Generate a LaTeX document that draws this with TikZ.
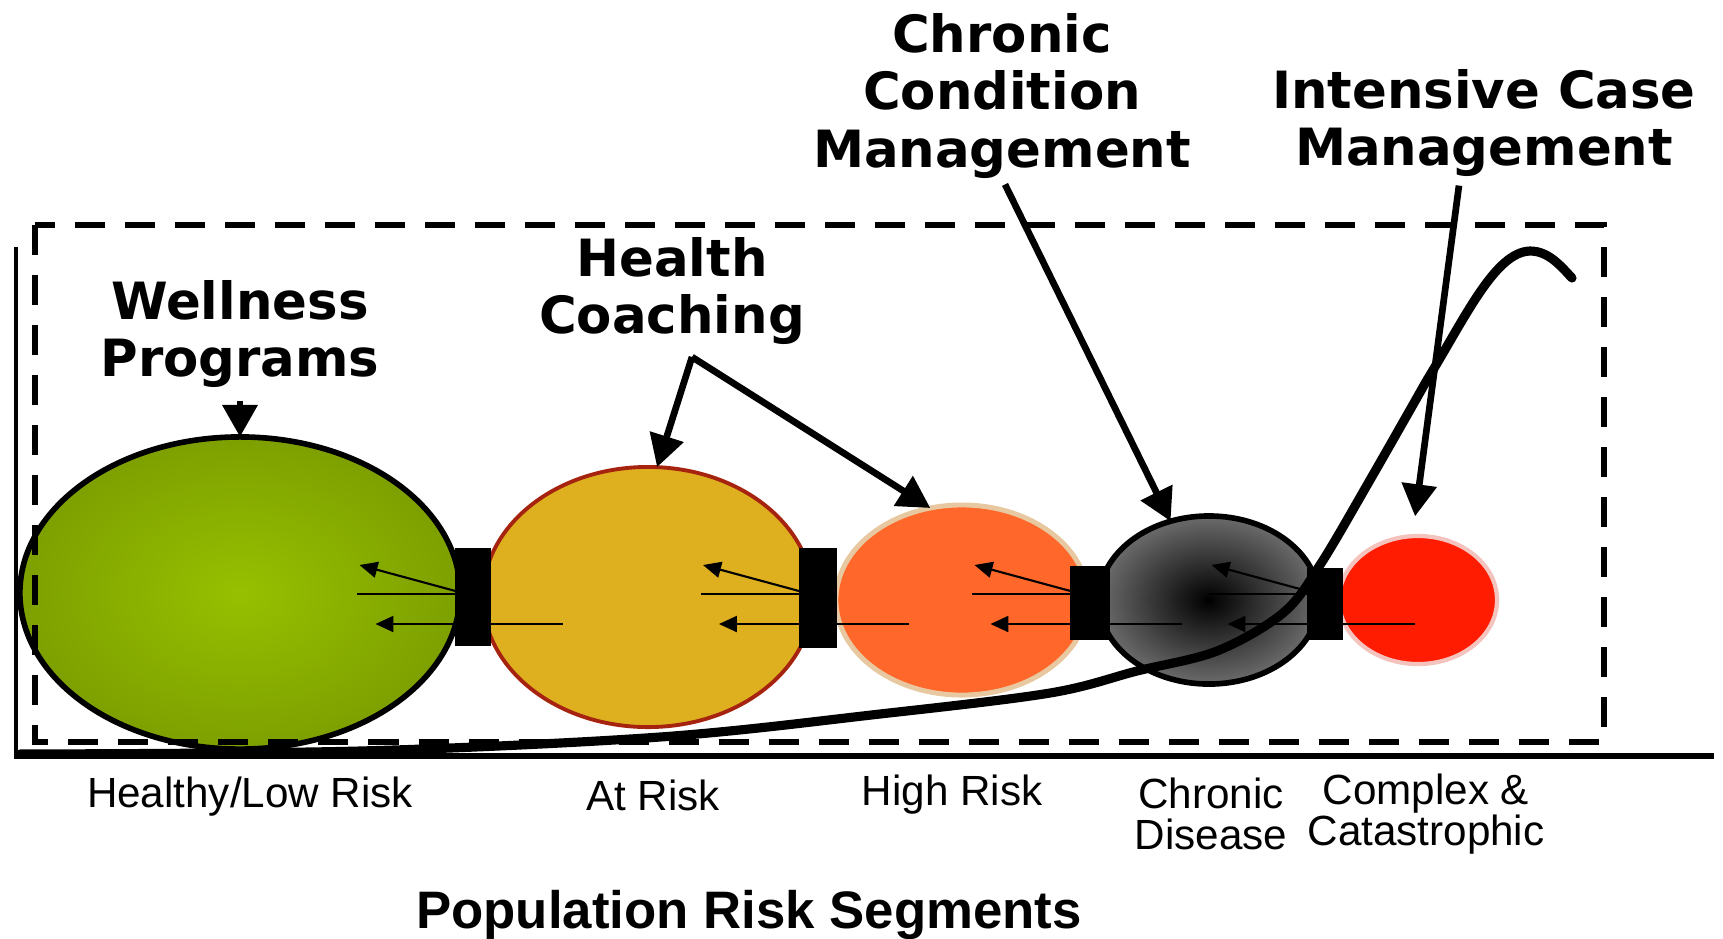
\documentclass[tikz,border=0pt]{standalone}
\usepackage{fontspec}
\setmainfont{Liberation Sans}
\newfontfamily\headfont{DejaVu Sans}
\usepackage{tikz}
\usetikzlibrary{arrows.meta, shapes.geometric}

\definecolor{wellgreen}{RGB}{150,192,0}
\definecolor{welledge}{RGB}{126,160,0}
\definecolor{riskgold}{RGB}{222,176,32}
\definecolor{riskrim}{RGB}{165,35,15}
\definecolor{highorange}{RGB}{255,104,42}
\definecolor{highrim}{RGB}{232,200,160}
\definecolor{cplxred}{RGB}{255,28,0}
\definecolor{cplxrim}{RGB}{245,195,190}

\begin{document}
\begin{tikzpicture}[x=0.01cm, y=-0.01cm,
  segment/.style={ellipse, inner sep=0pt, outer sep=0pt},
  %
  joint/.style={rectangle, fill=black, inner sep=0pt, outer sep=0pt},
  %
  program/.style={font=\headfont\bfseries\fontsize{14.6}{16.4}\selectfont,
    align=center, inner sep=0pt},
  %
  tier/.style={font=\fontsize{12}{11.5}\selectfont, align=center, inner sep=0pt},
  %
  pointer/.style={line width=1.9pt, -{Triangle[length=3.2mm, width=3.4mm]}},
  %
  flow/.style={line width=0.6pt, -{Triangle[length=1.8mm, width=1.6mm]}}
  ]

  \useasboundingbox (0,0) rectangle (1723,938);

  % axes
  \draw [line width=1.1pt] (16,247) -- (16,756);
  \draw [line width=1.9pt] (14,756) -- (1714,756);

  \begin{scope}
    %%%%%%%%%%%%%%%%%%%%%%%%%%%%%%%
    \node [segment, draw=black, line width=1.6pt, inner color=wellgreen,
      outer color=welledge, minimum width=4.4cm, minimum height=3.12cm]
      (healthy) at (240,593) {};
    \node [segment, draw=riskrim, line width=1.1pt, fill=riskgold,
      minimum width=3.3cm, minimum height=2.6cm] (atrisk) at (648,597) {};
    \node [segment, draw=highrim, line width=1.4pt, fill=highorange,
      minimum width=2.52cm, minimum height=1.9cm] (highrisk) at (962,600) {};
    \node [segment, draw=black, line width=1.6pt, inner color=black,
      outer color=black!58, minimum width=2.2cm, minimum height=1.68cm]
      (chronic) at (1209,600) {};
    \node [segment, draw=cplxrim, line width=1.2pt, fill=cplxred,
      minimum width=1.58cm, minimum height=1.28cm] (complex) at (1418,600) {};
    %%%%%%%%%%%%%%%%%%%%%%%%%%%%%%%
    \node [joint, minimum width=0.35cm, minimum height=0.97cm] (c1) at (473,597) {};
    \node [joint, minimum width=0.38cm, minimum height=0.99cm] (c2) at (818,598) {};
    \node [joint, minimum width=0.39cm, minimum height=0.74cm] (c3) at (1090,603) {};
    \node [joint, minimum width=0.35cm, minimum height=0.71cm] (c4) at (1325,604) {};
  \end{scope}

  \begin{scope}
    \foreach \c in {c1,c2,c3,c4} {
      \draw [flow] (\c.west |- 0,591) -- ++(-96,-26);
      \draw [line width=0.6pt] (\c.west |- 0,594) -- ++(-98,0);
      \draw [flow] ([xshift=0.72cm]\c.east |- 0,624) -- ([xshift=-0.8cm]\c.west |- 0,624);
    }
  \end{scope}

  % frame of the programs
  \draw [line width=1.8pt, dash pattern=on 0.3cm off 0.2cm] (35,225) rectangle (1604,742);

  % cost curve
  \draw [line width=2.6pt, line cap=round] plot [smooth, tension=0.55] coordinates
    {(20,754) (360,751) (660,737) (880,714) (1050,693) (1137,671) (1217,651)
     (1283,613) (1320,565) (1370,480) (1427,380)}
    .. controls (1465,318) and (1495,252) .. (1530,251)
    .. controls (1548,251) and (1560,265) .. (1572,278);

  \begin{scope}
    \node [program] (wellness) at (240,334) {Wellness\\Programs};
    \node [program] (coaching) at (672,291) {Health\\Coaching};
    \node [program] (condition) at (1002,96) {Chronic\\Condition\\Management};
    \node [program] (intensive) at (1484,123) {Intensive Case\\Management};
    \coordinate (fork) at (692,357);

    \draw [pointer] ([yshift=-0.12cm]wellness.south -| healthy.north) -- (healthy.north);
    \draw [pointer] (fork) -- (atrisk.86);
    \draw [pointer] (fork) -- (highrisk.109);
    \draw [pointer] ([xshift=0.03cm, yshift=-0.05cm]condition.south) -- (chronic.116);
    \draw [pointer, shorten >=0.2cm] ([xshift=-0.25cm, yshift=-0.08cm]intensive.south) -- (complex.95);
  \end{scope}

  \begin{scope}
    \node [tier] (lowlabel) at (250,797) {Healthy/Low Risk};
    \node [tier] (risklabel) at (653,795) {At Risk};
    \node [tier] (highlabel) at (952,795) {High Risk};
    \node [tier] (chroniclabel) at (1211,814) {Chronic\\Disease};
    \node [tier] (complexlabel) at (1426,814) {Complex \&\\Catastrophic};
    \node [font=\bfseries\fontsize{15}{18}\selectfont, inner sep=0pt] (segments)
      at (749,915) {Population Risk Segments};
  \end{scope}

\end{tikzpicture}
\end{document}
